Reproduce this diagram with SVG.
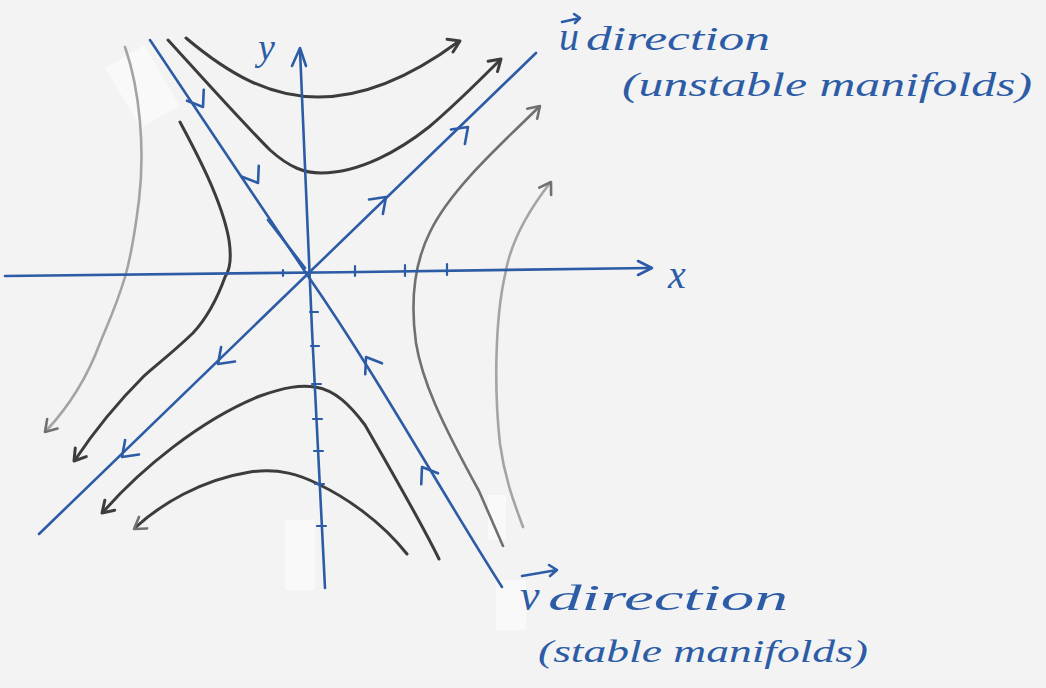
<svg xmlns="http://www.w3.org/2000/svg" xmlns:xlink="http://www.w3.org/1999/xlink" width="1046" height="688" viewBox="0 0 1046 688">
<style>
.blue{fill:none;stroke:#2d5ca6;stroke-width:2.6;stroke-linecap:round;stroke-linejoin:round}
.tick{fill:none;stroke:#2d5ca6;stroke-width:2.2;stroke-linecap:round}
.dk{fill:none;stroke:#3c3c3c;stroke-width:3;stroke-linecap:round;stroke-linejoin:round}
.md{fill:none;stroke:#707070;stroke-width:2.6;stroke-linecap:round;stroke-linejoin:round}
.lt{fill:none;stroke:#a4a4a4;stroke-width:2.6;stroke-linecap:round;stroke-linejoin:round}
.lbl{fill:#2d5ca6;font-family:"Liberation Serif",serif;font-style:italic}
</style>
<defs>
<path id="chev" d="M-14,-10 L0,0 L-14,10"/>
<path id="garr" d="M-11,-7 L0,0 L-11,7"/>
</defs>
<rect width="1046" height="688" fill="#f3f3f3"/>
<g id="patches" fill="#f9f9f9">
<rect x="120" y="52" width="45" height="70" transform="rotate(-30 142 87)"/>
<rect x="285" y="520" width="30" height="70"/>
<rect x="488" y="495" width="18" height="45"/>
<rect x="496" y="580" width="30" height="50"/>
</g>
<g id="trajectories">
<path class="dk" d="M186,38 C230,75 270,97 318,97 C370,97 420,70 458,42"/>
<path class="dk" d="M168,40 C200,75 240,120 270,150 C290,168 305,173 321,173 C360,173 400,150 429,127 C455,105 480,80 500,60"/>
<path class="md" d="M539,107 C500,145 450,190 430,232 C415,262 410,300 416,343 C422,380 440,420 479,491 L503,546"/>
<path class="lt" d="M550,183 C525,215 510,245 505,275 C495,320 494,390 500,444 C505,480 515,505 523,527"/>
<path class="lt" d="M125,47 C140,90 145,150 139,200 C134,240 130,260 125,277 C115,310 105,330 100,343 C90,370 75,400 46,431"/>
<path class="dk" d="M180,122 C195,150 222,200 229,240 C232,260 230,270 225,277 C215,305 205,320 193,333 C170,355 150,370 143,377 C115,405 95,430 75,460"/>
<path class="dk" d="M104,511 C140,470 200,420 260,396 C285,387 300,385 315,387 C335,390 350,405 365,425 C385,460 420,520 439,559"/>
<path class="dk" d="M136,527 C160,505 200,480 250,472 C280,468 300,475 318,484 C345,497 380,520 407,554"/>
<use xlink:href="#garr" class="dk" transform="translate(460,41) rotate(-25)"/>
<use xlink:href="#garr" class="dk" transform="translate(501,59) rotate(-42)"/>
<use xlink:href="#garr" class="md" transform="translate(540,106) rotate(-45)"/>
<use xlink:href="#garr" class="md" transform="translate(551,182) rotate(-58)"/>
<use xlink:href="#garr" class="md" transform="translate(45,432) rotate(132)"/>
<use xlink:href="#garr" class="dk" transform="translate(74,461) rotate(128)"/>
<use xlink:href="#garr" class="dk" transform="translate(102,513) rotate(135)"/>
<use xlink:href="#garr" class="md" transform="translate(134,529) rotate(145)"/>
</g>
<g id="axes">
<path class="blue" d="M5,276 C200,274 450,271 650,268"/>
<path class="blue" d="M638,261 L652,268 L638,275"/>
<path class="blue" d="M300,50 C305,150 308,250 312,330 C318,450 322,520 325,588"/>
<path class="blue" d="M292,66 L300,48 L306,66"/>
<path class="tick" d="M283,270 v6 M355,266 v10 M405,265 v11 M447,264 v11"/>
<path class="tick" d="M310,312 h8 M311,346 h8 M312,384 h9 M313,419 h9 M314,451 h9 M315,484 h9 M317,526 h9"/>
</g>
<g id="manifolds">
<path class="blue" d="M39,534 L536,53"/>
<path class="blue" d="M150,40 C200,115 260,205 308,276 C380,380 440,490 502,587"/>
<path class="blue" d="M268,220 L305,268"/>
<use xlink:href="#chev" class="blue" transform="translate(386,197) rotate(-44)"/>
<use xlink:href="#chev" class="blue" transform="translate(468,127) rotate(-44)"/>
<use xlink:href="#chev" class="blue" transform="translate(218,364) rotate(136)"/>
<use xlink:href="#chev" class="blue" transform="translate(122,457) rotate(136)"/>
<use xlink:href="#chev" class="blue" transform="translate(203,107) rotate(57)"/>
<use xlink:href="#chev" class="blue" transform="translate(258,183) rotate(57)"/>
<use xlink:href="#chev" class="blue" transform="translate(366,357) rotate(237)"/>
<use xlink:href="#chev" class="blue" transform="translate(422,467) rotate(237)"/>
</g>
<g id="labels">
<text class="lbl" x="258" y="60" font-size="38">y</text>
<text class="lbl" x="668" y="288" font-size="40">x</text>
<text class="lbl" x="559" y="50" font-size="40">u</text>
<path class="blue" d="M562,22 L580,18 M574,14 L580,18 L575,23" stroke-width="2.2"/>
<text class="lbl" x="586" y="50" font-size="34" textLength="184" lengthAdjust="spacingAndGlyphs">direction</text>
<text class="lbl" x="622" y="96" font-size="34" textLength="410" lengthAdjust="spacingAndGlyphs">(unstable manifolds)</text>
<text class="lbl" x="520" y="610" font-size="44">v</text>
<path class="blue" d="M522,576 L557,570 M549,565 L557,570 L550,576" stroke-width="2.4"/>
<text class="lbl" x="548" y="610" font-size="36" textLength="240" lengthAdjust="spacingAndGlyphs">direction</text>
<text class="lbl" x="538" y="662" font-size="32" textLength="330" lengthAdjust="spacingAndGlyphs">(stable manifolds)</text>
</g>
</svg>
